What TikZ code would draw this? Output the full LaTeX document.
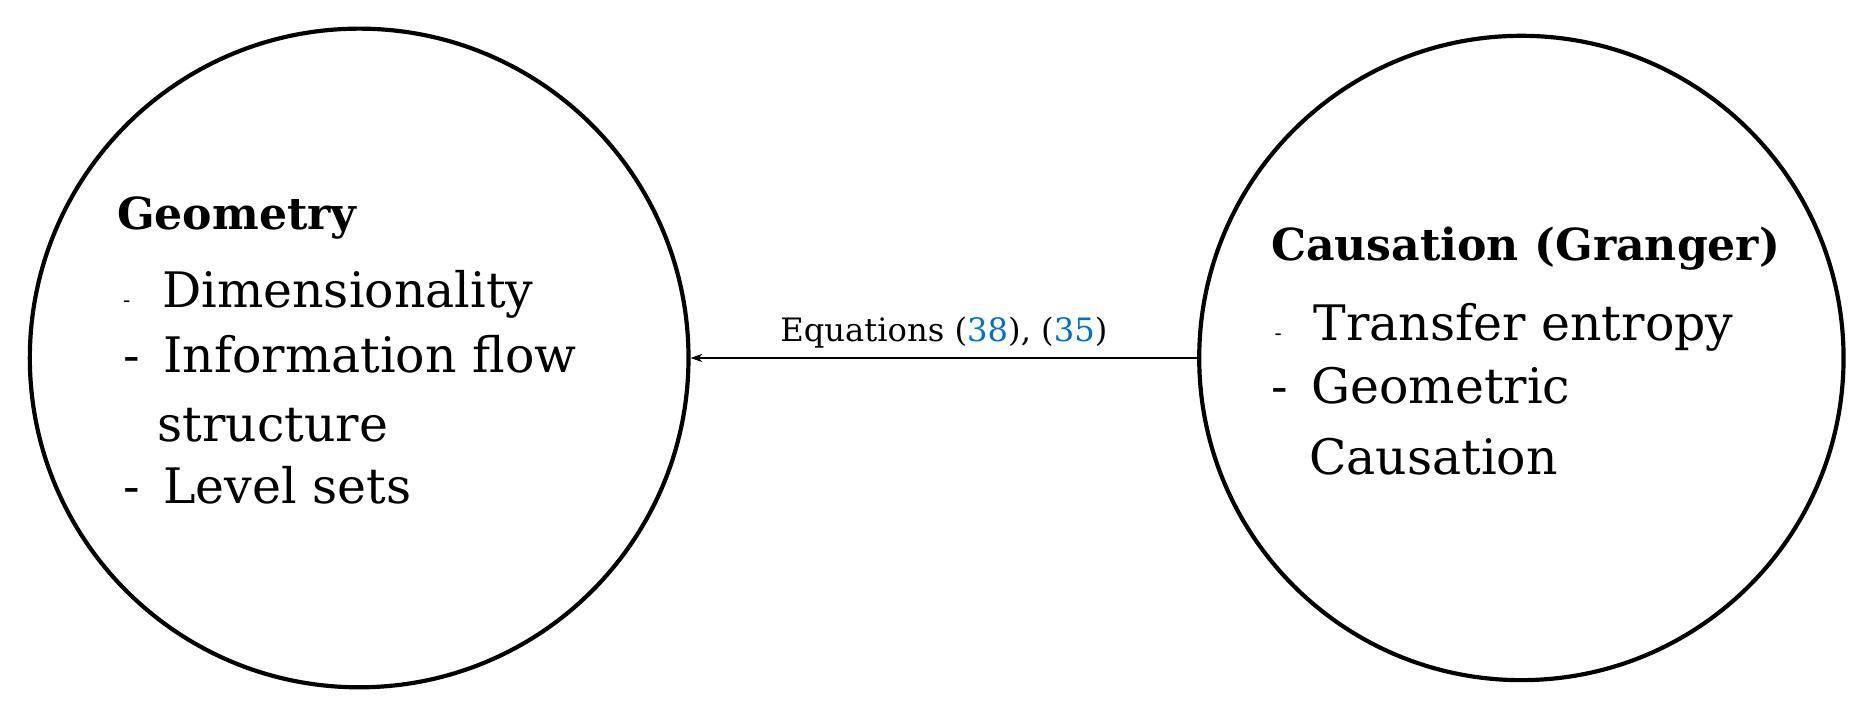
\documentclass[tikz,border=0pt]{standalone}
\usepackage{fontspec}
\setmainfont{DejaVu Serif}
\usetikzlibrary{arrows.meta}
\definecolor{refblue}{RGB}{0,110,200}
\begin{document}
\begin{tikzpicture}[x=1pt,y=-1pt,
  circ/.style={circle,draw,line width=3.5pt,minimum size=#1,inner sep=0pt},
  ttl/.style={anchor=base west,inner sep=0pt,font=\fontsize{37}{40}\selectfont\bfseries},
  itm/.style={anchor=base west,inner sep=0pt,font=\fontsize{41}{44}\selectfont},
  lbl/.style={anchor=base,inner sep=0pt,font=\fontsize{27}{30}\selectfont}]
\useasboundingbox (0,0) rectangle (1568,595);
\node[circ=552pt] (L) at (301,300) {};
\node[circ=540pt] (R) at (1275,300) {};
\node[ttl] (t1) at (98,192) {Geometry};
\node[itm] (a1) at (103,258) {{\fontsize{18}{20}\selectfont -}\,\, Dimensionality};
\node[itm] (a2) at (103,312) {-\, Information flow};
\node[itm] (a3) at (132,370) {structure};
\node[itm] (a4) at (103,422) {-\, Level sets};
\node[ttl] (t2) at (1065,218) {Causation (Granger)};
\node[itm] (b1) at (1068,285) {{\fontsize{18}{20}\selectfont -}\,\, Transfer entropy};
\node[itm] (b2) at (1065,338) {-\, Geometric};
\node[itm] (b3) at (1097,398) {Causation};
\draw[line width=1pt,-{Stealth[length=10pt,width=7pt]}] (R.west) -- (L.east)
  node[midway,above=14pt,lbl] (e) {Equations (\textcolor{refblue}{38}), (\textcolor{refblue}{35})};
\end{tikzpicture}
\end{document}
